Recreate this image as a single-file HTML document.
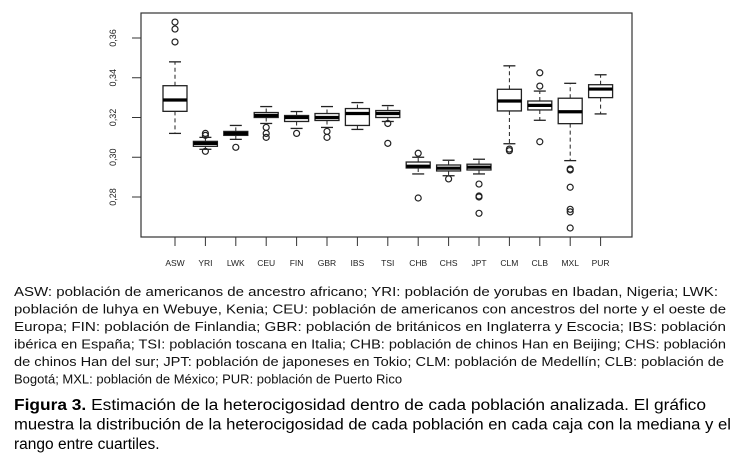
<!DOCTYPE html>
<html><head><meta charset="utf-8"><style>
html,body{margin:0;padding:0;background:#fff;width:744px;height:465px;overflow:hidden}
svg{display:block}
</style></head><body>
<svg id="fig" width="744" height="465" xmlns="http://www.w3.org/2000/svg" font-family="Liberation Sans, sans-serif">
<g id="chart"></g>
<g font-size="13" fill="#111">
<text x="14" y="296" textLength="704" lengthAdjust="spacingAndGlyphs">ASW: población de americanos de ancestro africano; YRI: población de yorubas en Ibadan, Nigeria; LWK:</text>
<text x="14" y="313.5" textLength="712" lengthAdjust="spacingAndGlyphs">población de luhya en Webuye, Kenia; CEU: población de americanos con ancestros del norte y el oeste de</text>
<text x="14" y="331" textLength="712" lengthAdjust="spacingAndGlyphs">Europa; FIN: población de Finlandia; GBR: población de británicos en Inglaterra y Escocia; IBS: población</text>
<text x="14" y="348.5" textLength="712" lengthAdjust="spacingAndGlyphs">ibérica en España; TSI: población toscana en Italia; CHB: población de chinos Han en Beijing; CHS: población</text>
<text x="14" y="366" textLength="710" lengthAdjust="spacingAndGlyphs">de chinos Han del sur; JPT: población de japoneses en Tokio; CLM: población de Medellín; CLB: población de</text>
<text x="14" y="383.5">Bogotá; MXL: población de México; PUR: población de Puerto Rico</text>
</g>
<g font-size="15.5" fill="#000">
<text x="14" y="410" textLength="692" lengthAdjust="spacingAndGlyphs"><tspan font-weight="bold">Figura 3.</tspan> Estimación de la heterocigosidad dentro de cada población analizada. El gráfico</text>
<text x="14" y="429.5" textLength="717" lengthAdjust="spacingAndGlyphs">muestra la distribución de la heterocigosidad de cada población en cada caja con la mediana y el</text>
<text x="14" y="449">rango entre cuartiles.</text>
</g>
</svg>
<script>
const categories=["ASW","YRI","LWK","CEU","FIN","GBR","IBS","TSI","CHB","CHS","JPT","CLM","CLB","MXL","PUR"];
const whiskLow=[0.312,0.304,0.309,0.317,0.3145,0.315,0.314,0.318,0.2916,0.2907,0.2916,0.3068,0.3186,0.2983,0.3218];
const q1=[0.3231,0.3055,0.311,0.320,0.318,0.3185,0.316,0.320,0.2946,0.2931,0.2936,0.3233,0.3238,0.3169,0.330];
const medians=[0.3288,0.307,0.312,0.321,0.320,0.320,0.322,0.322,0.2955,0.2945,0.295,0.3283,0.3261,0.3229,0.3343];
const q3=[0.336,0.308,0.313,0.3225,0.321,0.322,0.3245,0.3235,0.2976,0.2961,0.2965,0.3342,0.3283,0.3297,0.3365];
const whiskHigh=[0.348,0.310,0.316,0.3255,0.323,0.3255,0.3275,0.326,0.300,0.2985,0.299,0.346,0.3333,0.3372,0.3415];
const outliers=[[0.368,0.3645,0.358],[0.312,0.311,0.303],[0.305],[0.315,0.312,0.310],[0.312],[0.313,0.310],[],[0.317,0.307],[0.302,0.2795],[0.2891],[0.2865,0.280,0.2805,0.2718],[0.3041,0.3033],[0.3425,0.3358,0.3078],[0.2941,0.2936,0.2849,0.2738,0.2725,0.2644],[]];
const yTicks=[0.28,0.30,0.32,0.34,0.36];
const yTickLabels=["0,28","0,30","0,32","0,34","0,36"];

const NS="http://www.w3.org/2000/svg";
const g=document.getElementById('chart');
const L=141,T=13,R=632,B=237;
const y=v=>197-(v-0.28)*1987.5;
const x=i=>175+30.4*i;
function mk(t,a){const e=document.createElementNS(NS,t);for(const k in a)e.setAttribute(k,a[k]);g.appendChild(e);return e;}
let e=mk('rect',{x:L,y:T,width:R-L,height:B-T,fill:'none',stroke:'#333','stroke-width':1.2});


yTicks.forEach((v,k)=>{
 let t=mk('line',{x1:L,x2:L-9,y1:y(v),y2:y(v),stroke:'#333'});
 
 
 let l=mk('text',{x:0,y:0,'font-size':9,fill:'#222','text-anchor':'middle',transform:`translate(116,${y(v)}) rotate(-90)`});
 l.textContent=yTickLabels[k];
 
 
});
categories.forEach((c,i)=>{
 const cx=x(i),w=12;
 let t=mk('line',{x1:cx,x2:cx,y1:B,y2:B+9,stroke:'#333'});
 
 
 let l=mk('text',{x:cx,y:266,'font-size':8.5,fill:'#222','text-anchor':'middle'});
 l.textContent=c;
 
 
 let wl=mk('line',{x1:cx,x2:cx,y1:y(q3[i]),y2:y(whiskHigh[i]),stroke:'#222','stroke-dasharray':'4,3'});
 
 
 let wl2=mk('line',{x1:cx,x2:cx,y1:y(q1[i]),y2:y(whiskLow[i]),stroke:'#222','stroke-dasharray':'4,3'});
 
 
 [whiskHigh[i],whiskLow[i]].forEach(v=>{
  let cap=mk('line',{x1:cx-6,x2:cx+6,y1:y(v),y2:y(v),stroke:'#222','stroke-width':1.3});
  
  
 });
 let b=mk('rect',{x:cx-w,y:y(q3[i]),width:2*w,height:Math.max(y(q1[i])-y(q3[i]),0.5),fill:'#fff',stroke:'#222','stroke-width':1.3});
 
 
 let m=mk('line',{x1:cx-w,x2:cx+w,y1:y(medians[i]),y2:y(medians[i]),stroke:'#000','stroke-width':3.2});
 
 
 outliers[i].forEach(v=>{
  let o=mk('circle',{cx:cx,cy:y(v),r:3,fill:'none',stroke:'#222','stroke-width':1.2});
  
  
 });
});
</script>
</body></html>
